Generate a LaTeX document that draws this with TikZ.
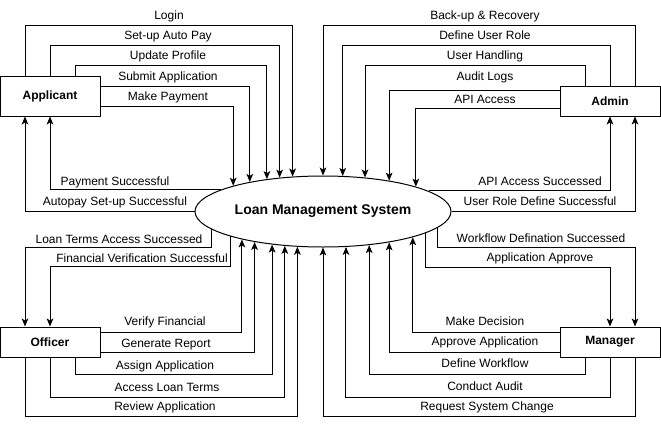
\documentclass[tikz,border=0pt]{standalone}
\usepackage{fontspec}
\setmainfont{Liberation Sans}
\usetikzlibrary{arrows.meta,calc,shapes.geometric}

\tikzset{
  actor/.style={draw, line width=0.75pt, minimum width=75pt, minimum height=22.5pt, inner sep=0pt, font=\fontsize{9pt}{10pt}\selectfont\bfseries},
  lbl/.style={inner sep=0pt, font=\fontsize{9pt}{10pt}\selectfont, text height=6.5pt, text depth=2pt},
  flow/.style={line width=0.75pt, -{Stealth[length=6pt,width=5pt,inset=1.5pt]}},
}

\begin{document}
\begin{tikzpicture}[x=0.75pt,y=0.75pt,yscale=-1,xscale=1]
\useasboundingbox (0,0) rectangle (661,425);

%Shape: Ellipse
\node [draw, ellipse, line width=0.75pt, minimum width=192pt, minimum height=53.25pt, inner sep=0pt, font=\fontsize{10.5pt}{12pt}\selectfont\bfseries] (lms) at (323,211.5) {Loan Management System};

%Shape: Rectangle
\node [actor, minimum height=30pt] (app) at (50,96) {Applicant};
%Shape: Rectangle
\node [actor] (adm) at (610,101) {Admin};
%Shape: Rectangle
\node [actor] (off) at (50,342) {Officer};
%Shape: Rectangle
\node [actor] (mgr) at (610,342) {Manager};

%Connectors: Applicant
\draw [flow] ($(app.north)+(-25,0)$) -- ++(0,-50) -| (lms.131);
\draw [flow] (app.north) -- ++(0,-30) -| (lms.142.2);
\draw [flow] ($(app.north)+(25,0)$) -- ++(0,-10) -| (lms.150.3);
\draw [flow] ($(app.east)+(0,-10)$) -| (lms.158.2);
\draw [flow] ($(app.east)+(0,10)$) -| (lms.164.4);
\draw [flow] (lms.168.1) -| (app.south);
\draw [flow] (lms.west) -| ($(app.south)+(-25,0)$);

%Connectors: Admin
\draw [flow] ($(adm.north)+(25,0)$) -- ++(0,-60) -| (lms.90);
\draw [flow] (adm.north) -- ++(0,-40) -| (lms.61.6);
\draw [flow] ($(adm.north)+(-25,0)$) -- ++(0,-20) -| (lms.39.3);
\draw [flow] ($(adm.west)+(0,-11)$) -| (lms.25.2);
\draw [flow] ($(adm.west)+(0,7)$) -| (lms.15.4);
\draw [flow] (lms.11.9) -| (adm.south);
\draw [flow] (lms.east) -| ($(adm.south)+(25,0)$);

%Connectors: Officer
\draw [flow] (lms.189.1) -- ++(0,18) -| ($(off.north)+(-25,0)$);
\draw [flow] (lms.195.6) -- ++(0,30) -| (off.north);
\draw [flow] ($(off.east)+(0,-10)$) -| (lms.199.1);
\draw [flow] ($(off.east)+(0,10)$) -| (lms.204.7);
\draw [flow] ($(off.south)+(25,0)$) -- ++(0,17) -| (lms.213.2);
\draw [flow] (off.south) -- ++(0,40) -| (lms.222.6);
\draw [flow] ($(off.south)+(-25,0)$) -- ++(0,59) -| (lms.234.3);

%Connectors: Manager
\draw [flow] (lms.352.3) -- ++(0,20) -| ($(mgr.north)+(25,0)$);
\draw [flow] (lms.348.7) -- ++(0,34) -| (mgr.north);
\draw [flow] ($(mgr.west)+(0,-10)$) -| (lms.344.4);
\draw [flow] ($(mgr.west)+(0,10)$) -| (lms.335.7);
\draw [flow] ($(mgr.south)+(-25,0)$) -- ++(0,17) -| (lms.324.3);
\draw [flow] (mgr.south) -- ++(0,40) -| (lms.303.4);
\draw [flow] ($(mgr.south)+(25,0)$) -- ++(0,59) -| (lms.270);

% Text Node
\node [lbl] (tLogin) at (169,16) {Login};
% Text Node
\node [lbl] (tAutoPay) at (168,36) {Set-up Auto Pay};
% Text Node
\node [lbl] (tProfile) at (168,56.5) {Update Profile};
% Text Node
\node [lbl] (tSubmit) at (168,77.5) {Submit Application};
% Text Node
\node [lbl] (tPayment) at (168,97.5) {Make Payment};
% Text Node
\node [lbl] (tPaySucc) at (115,182.5) {Payment Successful};
% Text Node
\node [lbl] (tAutoSucc) at (115,202) {Autopay Set-up Successful};

% Text Node
\node [lbl] (tBackup) at (485,16) {Back-up \& Recovery};
% Text Node
\node [lbl] (tRole) at (485,36) {Define User Role};
% Text Node
\node [lbl] (tHandling) at (485,56.5) {User Handling};
% Text Node
\node [lbl] (tAudit) at (485,77.5) {Audit Logs};
% Text Node
\node [lbl] (tApi) at (485,100) {API Access};
% Text Node
\node [lbl] (tApiSucc) at (540,182.5) {API Access Successed};
% Text Node
\node [lbl] (tRoleSucc) at (540,202) {User Role Define Successful};

% Text Node
\node [lbl] (tTermsSucc) at (119,240) {Loan Terms Access Successed};
% Text Node
\node [lbl] (tFinSucc) at (142,259) {Financial Verification Successful};
% Text Node
\node [lbl] (tVerify) at (165,322) {Verify Financial};
% Text Node
\node [lbl] (tReport) at (166,344) {Generate Report};
% Text Node
\node [lbl] (tAssign) at (165,366) {Assign Application};
% Text Node
\node [lbl] (tTerms) at (167,388.5) {Access Loan Terms};
% Text Node
\node [lbl] (tReview) at (165,407) {Review Application};

% Text Node
\node [lbl] (tFlowSucc) at (541,239) {Workflow Defination Successed};
% Text Node
\node [lbl] (tApprove) at (540,258.5) {Application Approve};
% Text Node
\node [lbl] (tDecision) at (485,322) {Make Decision};
% Text Node
\node [lbl] (tApproveApp) at (485,342) {Approve Application};
% Text Node
\node [lbl] (tWorkflow) at (485,364.5) {Define Workflow};
% Text Node
\node [lbl] (tConduct) at (485,387.5) {Conduct Audit};
% Text Node
\node [lbl] (tChange) at (487,407.5) {Request System Change};

\end{tikzpicture}
\end{document}
